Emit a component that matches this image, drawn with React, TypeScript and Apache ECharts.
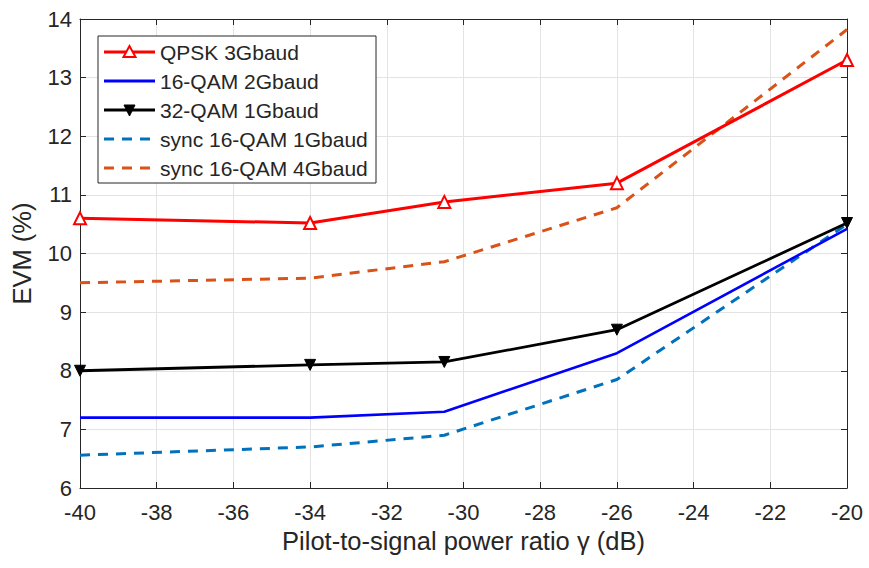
import React, { useEffect, useRef } from "react";
import * as echarts from "echarts";

const xValues = [-40, -34, -30.5, -26, -20];
const qpsk3 = [10.6, 10.52, 10.88, 11.2, 13.3];
const qam16_2 = [7.2, 7.2, 7.3, 8.3, 10.42];
const qam32_1 = [8.0, 8.1, 8.15, 8.7, 10.52];
const sync16_1 = [6.56, 6.7, 6.9, 7.85, 10.5];
const sync16_4 = [9.5, 9.58, 9.86, 10.78, 13.82];
const seriesNames = ["QPSK 3Gbaud", "16-QAM 2Gbaud", "32-QAM 1Gbaud", "sync 16-QAM 1Gbaud", "sync 16-QAM 4Gbaud"];
const seriesColors = ["#ff0000", "#0000ff", "#000000", "#0072bd", "#d95319"];
const seriesMarkers = ["up", "none", "down", "none", "none"];
const seriesDashed = [false, false, false, true, true];

const pts = (ys: number[]) => xValues.map((x, i) => [x, ys[i]]);

export default function App() {
  const ref = useRef<HTMLDivElement>(null);
  useEffect(() => {
    const chart = echarts.init(ref.current!, undefined, { renderer: "svg" });
    const font = "Liberation Sans, Arial, sans-serif";
    const textColor = "#262626";
    const axisLine = { show: true, lineStyle: { color: "#262626", width: 1 } };
    const dash = [10, 8];
    const Z = 100;

    // custom legend (box + samples + labels)
    const legendLeft = 98;
    const legendTop = 36;
    const legendW = 278;
    const legendH = 147;
    const rowY0 = 52;
    const rowGap = 29;
    const legendChildren: any[] = [
      {
        type: "rect",
        z: Z,
        shape: { x: legendLeft, y: legendTop, width: legendW, height: legendH },
        style: { fill: "#fff", stroke: "#262626", lineWidth: 1 },
      },
    ];
    seriesNames.forEach((name, i) => {
      const y = rowY0 + rowGap * i;
      legendChildren.push({
        type: "line",
        z: Z + 1,
        shape: { x1: 104, y1: y, x2: 155, y2: y },
        style: {
          stroke: seriesColors[i],
          lineWidth: 3,
          lineDash: seriesDashed[i] ? dash : null,
        },
      });
      const cx = 129.5;
      if (seriesMarkers[i] === "up") {
        legendChildren.push({
          type: "polygon",
          z: Z + 2,
          shape: { points: [[cx, y - 6], [cx - 6, y + 5], [cx + 6, y + 5]] },
          style: { fill: "#fff", stroke: seriesColors[i], lineWidth: 2 },
        });
      } else if (seriesMarkers[i] === "down") {
        legendChildren.push({
          type: "polygon",
          z: Z + 2,
          shape: { points: [[cx, y + 6], [cx - 5.5, y - 5], [cx + 5.5, y - 5]] },
          style: { fill: seriesColors[i], stroke: seriesColors[i], lineWidth: 1 },
        });
      }
      legendChildren.push({
        type: "text",
        z: Z + 2,
        x: 160,
        y: y,
        style: {
          text: name,
          font: `21px ${font}`,
          fill: textColor,
          verticalAlign: "middle",
        },
      });
    });

    chart.setOption({
      animation: false,
      backgroundColor: "#fff",
      grid: { left: 80, right: 22, top: 19, bottom: 80, containLabel: false },
      graphic: [{ type: "group", z: Z, children: legendChildren }],
      xAxis: [
        {
          type: "value",
          min: -40,
          max: -20,
          interval: 2,
          name: "Pilot-to-signal power ratio γ (dB)",
          nameLocation: "middle",
          nameGap: 40,
          nameTextStyle: { fontFamily: font, fontSize: 25.5, color: textColor },
          axisLine,
          axisTick: { show: true, inside: true, length: 6, lineStyle: { color: "#262626" } },
          axisLabel: { fontFamily: font, fontSize: 22, color: textColor, margin: 13 },
          splitLine: { show: true, lineStyle: { color: "#e3e3e3", width: 1 } },
        },
        {
          type: "value",
          position: "top",
          min: -40,
          max: -20,
          interval: 2,
          axisLine,
          axisTick: { show: true, inside: true, length: 6, lineStyle: { color: "#262626" } },
          axisLabel: { show: false },
          splitLine: { show: false },
        },
      ],
      yAxis: [
        {
          type: "value",
          min: 6,
          max: 14,
          interval: 1,
          name: "EVM (%)",
          nameLocation: "middle",
          nameGap: 45,
          nameTextStyle: { fontFamily: font, fontSize: 25.5, color: textColor },
          axisLine,
          axisTick: { show: true, inside: true, length: 6, lineStyle: { color: "#262626" } },
          axisLabel: { fontFamily: font, fontSize: 22, color: textColor, margin: 8 },
          splitLine: { show: true, lineStyle: { color: "#e3e3e3", width: 1 } },
        },
        {
          type: "value",
          position: "right",
          min: 6,
          max: 14,
          interval: 1,
          axisLine,
          axisTick: { show: true, inside: true, length: 6, lineStyle: { color: "#262626" } },
          axisLabel: { show: false },
          splitLine: { show: false },
        },
      ],
      series: [
        {
          name: seriesNames[0],
          type: "line",
          data: pts(qpsk3),
          symbol: "triangle",
          symbolSize: 12,
          itemStyle: { color: "#fff", borderColor: seriesColors[0], borderWidth: 2 },
          lineStyle: { color: seriesColors[0], width: 3 },
          z: 5,
        },
        {
          name: seriesNames[1],
          type: "line",
          data: pts(qam16_2),
          symbol: "none",
          lineStyle: { color: seriesColors[1], width: 2.6 },
          z: 3,
        },
        {
          name: seriesNames[2],
          type: "line",
          data: pts(qam32_1),
          symbol: "triangle",
          symbolRotate: 180,
          symbolSize: 11,
          itemStyle: { color: "#000", borderColor: "#000", borderWidth: 1 },
          lineStyle: { color: seriesColors[2], width: 2.8 },
          z: 4,
        },
        {
          name: seriesNames[3],
          type: "line",
          data: pts(sync16_1),
          symbol: "none",
          lineStyle: { color: seriesColors[3], width: 3, type: dash },
          z: 2,
        },
        {
          name: seriesNames[4],
          type: "line",
          data: pts(sync16_4),
          symbol: "none",
          lineStyle: { color: seriesColors[4], width: 3, type: dash },
          z: 2,
        },
      ],
    });
    return () => chart.dispose();
  }, []);
  return <div ref={ref} style={{ width: 869, height: 568, position: "absolute", left: 0, top: 0 }} />;
}
